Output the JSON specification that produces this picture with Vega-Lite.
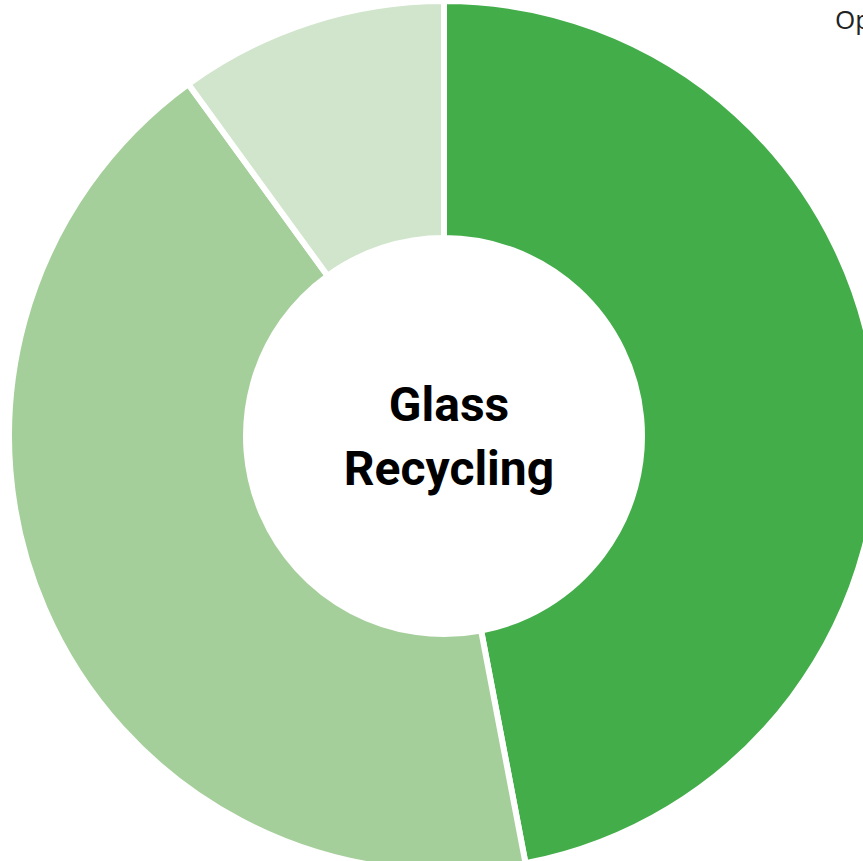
{
  "$schema": "https://vega.github.io/schema/vega-lite/v6.json",
  "width": 888,
  "height": 872,
  "padding": 0,
  "autosize": {"type": "none"},
  "background": "white",
  "config": {"view": {"stroke": null}},
  "layer": [
    {
      "data": {"values": [
        {"category": "Recycled", "value": 47, "order": 1},
        {"category": "Landfill", "value": 43, "order": 2},
        {"category": "Other", "value": 10, "order": 3}
      ]},
      "mark": {"type": "arc", "outerRadius": 435, "innerRadius": 198, "stroke": "white", "strokeWidth": 6},
      "encoding": {
        "theta": {"field": "value", "type": "quantitative", "stack": true},
        "order": {"field": "order", "type": "quantitative"},
        "color": {
          "field": "category", "type": "nominal",
          "scale": {"domain": ["Recycled", "Landfill", "Other"], "range": ["#43ad4a", "#a5cf9a", "#d0e5cb"]},
          "legend": {"title": "Options", "values": [], "orient": "none", "legendX": 835, "legendY": 8, "titleFontSize": 26, "titleFontWeight": "normal", "titleFont": "Open Sans", "titleColor": "#222"}
        }
      }
    },
    {
      "data": {"values": [{"label": "Glass\nRecycling"}]},
      "mark": {"type": "text", "font": "Roboto", "fontWeight": "bold", "fontSize": 48, "lineBreak": "\n", "lineHeight": 64, "align": "center", "baseline": "middle", "dx": 5, "dy": -29, "color": "black"},
      "encoding": {"text": {"field": "label"}}
    }
  ]
}
